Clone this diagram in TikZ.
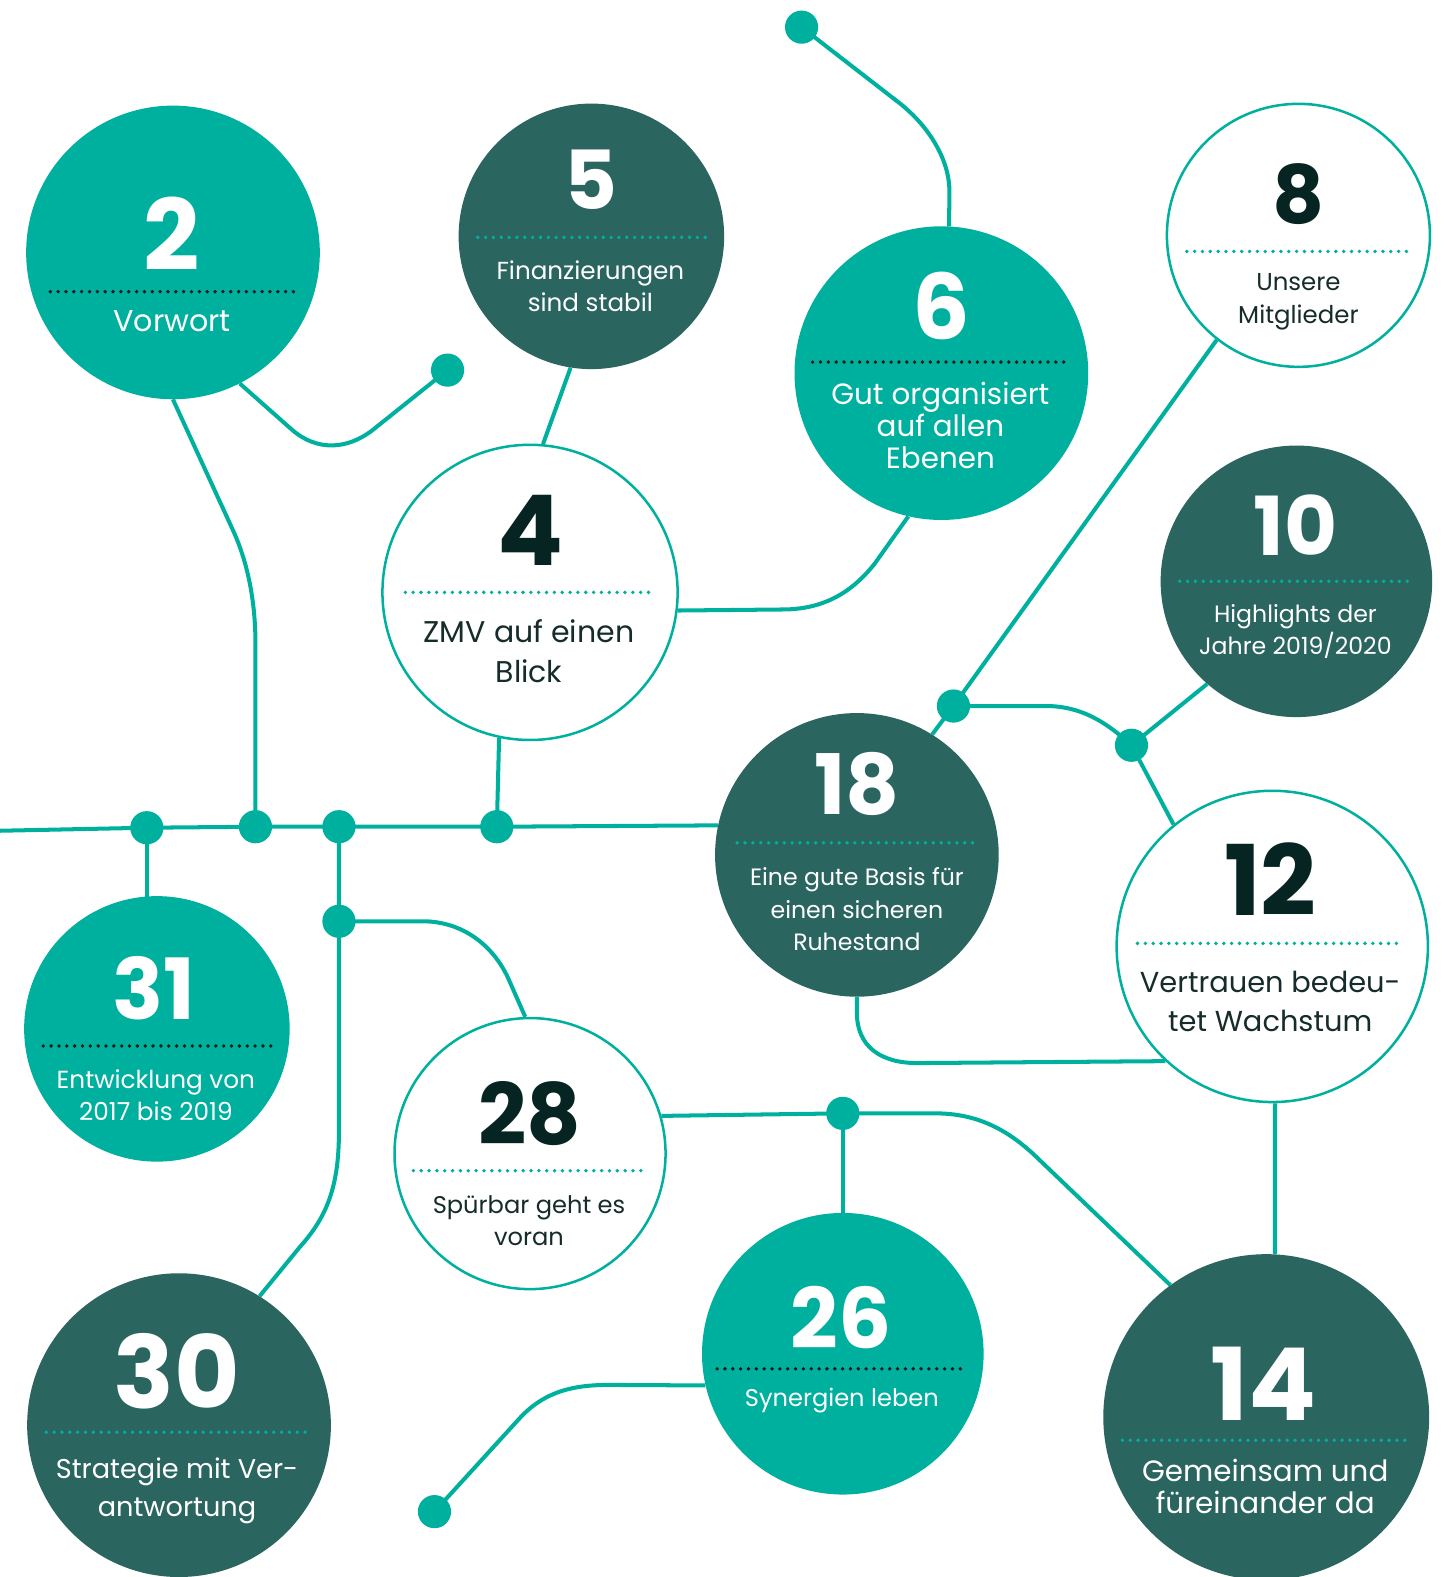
\documentclass[tikz,border=0pt]{standalone}
\usepackage{fontspec}
\setmainfont{Poppins}
\definecolor{tealc}{RGB}{0,176,159}
\definecolor{darkc}{RGB}{42,101,96}
\definecolor{inkc}{RGB}{6,36,33}
\definecolor{txtc}{RGB}{22,44,42}
\newcommand\nsz[1]{\fontsize{#1}{#1}\selectfont\bfseries}
\newcommand\lsz[2]{\fontsize{#1}{#2}\selectfont}
\pgfdeclarelayer{paper}
\pgfdeclarelayer{links}
\pgfsetlayers{paper,links,main}
\begin{document}
\begin{tikzpicture}[x=1pt,y=-1pt,
  tealdisc/.style={circle,inner sep=0,fill=tealc,minimum size={2*#1}},
  darkdisc/.style={circle,inner sep=0,fill=darkc,minimum size={2*#1}},
  ringdisc/.style={circle,inner sep=0,fill=white,draw=tealc,line width=2.5,minimum size={2*#1-2.5}},
  jdot/.style={circle,inner sep=0,fill=tealc,minimum size=33},
  link/.style={draw=tealc,line width=4,line join=round},
  num/.style={inner sep=0,anchor=center},
  lab/.style={inner sep=0,anchor=center,align=center},
  sepdark/.style={line width=3.8,dash pattern=on 0pt off 7.8pt,line cap=round,draw=black!90},
  seplight/.style={line width=3.8,dash pattern=on 0pt off 7.8pt,line cap=round,draw=tealc},
]
\useasboundingbox (0,0) rectangle (1444,1568);
\begin{pgfonlayer}{paper}
\fill[white] (0,0) rectangle (1444,1568);
\end{pgfonlayer}

% discs
\node[tealdisc=146] (c2)  at (172,251)  {};
\node[darkdisc=132] (c5)  at (588,235)  {};
\node[tealdisc=146] (c6)  at (936,371)  {};
\node[ringdisc=132] (c8)  at (1291,234) {};
\node[ringdisc=148] (c4)  at (527,589)  {};
\node[darkdisc=135] (c10) at (1289,578) {};
\node[darkdisc=141] (c18) at (852,850)  {};
\node[ringdisc=156] (c12) at (1265,941) {};
\node[tealdisc=132] (c31) at (156,1023) {};
\node[ringdisc=136] (c28) at (527,1147) {};
\node[tealdisc=140] (c26) at (838,1346) {};
\node[darkdisc=151] (c30) at (178,1417) {};
\node[darkdisc=162] (c14) at (1259,1409) {};

% junction dots
\node[jdot] (j1)  at (146,823)  {};
\node[jdot] (j2)  at (254,822)  {};
\node[jdot] (j3)  at (337,822)  {};
\node[jdot] (j4)  at (494,822)  {};
\node[jdot] (j5)  at (337,916)  {};
\node[jdot] (jt)  at (797,27)   {};
\node[jdot] (jv)  at (445,368)  {};
\node[jdot] (j18) at (948,702)  {};
\node[jdot] (j10) at (1125,741) {};
\node[jdot] (j28) at (838,1107) {};
\node[jdot] (j26) at (432,1503) {};
\coordinate (w) at (0,826);

% connectors
\begin{pgfonlayer}{links}
\draw[link] (w) -- (j1.center) -- (j2.center) -- (j3.center) -- (j4.center) -- (c18.168);
\draw[link] (j1.center) -- (j1.center |- c31.center);
\draw[link] (c2.270) -- (232,528) .. controls (247,561) and (254,600) .. (254,640) -- (j2.center);
\draw[link] (c2.297) -- (290,427) .. controls (315,449) and (345,447) .. (370,428) -- (jv.center);
\draw[link] (c5.261) -- (c4.85);
\draw[link] (c4.258) -- (j4.center);
\draw[link] (c4.353) -- (778,606) .. controls (820,606) and (848,588) .. (870,560) -- (c6.257);
\draw[link] (jt.center) -- (895,103) .. controls (925,127) and (944,160) .. (944,190) -- (c6.87);
\draw[link] (c8.232) -- (j18.center) -- (c18.58);
\draw[link] (j18.center) -- (1040,702) .. controls (1075,702) and (1100,718) .. (j10.center) -- (c12.129);
\draw[link] (c10.229) -- (j10.center);
\draw[link] (c18.270) -- (852,1007) .. controls (852,1040) and (875,1057) .. (912,1057) -- (c12.227);
\draw[link] (c12.271) -- (c14.87);
\draw[link] (c28.16) -- (j28.center) -- (930,1107) .. controls (970,1107) and (1000,1122) .. (1028,1148) -- (c14.126);
\draw[link] (j28.center) -- (c26.center);
\draw[link] (j3.center) -- (j5.center) -- (337,1125) .. controls (337,1180) and (325,1210) .. (298,1240) -- (c30.58);
\draw[link] (j5.center) -- (420,916) .. controls (460,916) and (490,940) .. (505,972) -- (c28.92);
\draw[link] (c26.193) -- (605,1377) .. controls (565,1377) and (538,1386) .. (515,1412) -- (j26.center);
\end{pgfonlayer}

% separators
\draw[sepdark]  (50,290) -- (293,290);
\draw[seplight] (475,236) -- (703,236);
\draw[sepdark]  (808,360) -- (1063,360);
\draw[seplight] (1180,250) -- (1405,250);
\draw[seplight] (403,589) -- (652,589);
\draw[seplight] (1173,578) -- (1405,578);
\draw[seplight] (733,838) -- (970,838);
\draw[seplight] (1131,938) -- (1396,938);
\draw[sepdark]  (43,1040) -- (270,1040);
\draw[seplight] (411,1164) -- (643,1164);
\draw[sepdark]  (713,1361) -- (962,1361);
\draw[seplight] (46,1424) -- (308,1424);
\draw[seplight] (1116,1432) -- (1402,1432);

% page numbers
\node[num,text=white,font=\nsz{98}]  (n2)  at (171,232)  {2};
\node[num,text=white,font=\nsz{81}]  (n5)  at (588,179)  {5};
\node[num,text=white,font=\nsz{90}]  (n6)  at (936,304)  {6};
\node[num,text=inkc,font=\nsz{80}]   (n8)  at (1291,193) {8};
\node[num,text=inkc,font=\nsz{97}]   (n4)  at (527,527)  {4};
\node[num,text=white,font=\nsz{81}]  (n10) at (1288,522) {10};
\node[num,text=white,font=\nsz{83}]  (n18) at (852,780)  {18};
\node[num,text=inkc,font=\nsz{97}]   (n12) at (1263,874) {12};
\node[num,text=white,font=\nsz{84}]  (n31) at (153,983)  {31};
\node[num,text=inkc,font=\nsz{84}]   (n28) at (527,1107) {28};
\node[num,text=white,font=\nsz{83}]  (n26) at (836,1310) {26};
\node[num,text=white,font=\nsz{100}] (n30) at (176,1363) {30};
\node[num,text=white,font=\nsz{100}] (n14) at (1256,1376) {14};

% titles
\node[lab,text=white,font=\lsz{30}{34}]     (t2)  at (171,319)  {Vorwort};
\node[lab,text=white,font=\lsz{24.5}{31.5}] (t5)  at (587,284.5) {Finanzierungen\\sind stabil};
\node[lab,text=white,font=\lsz{29.2}{32}]   (t6)  at (935,423)  {Gut organisiert\\auf allen\\Ebenen};
\node[lab,text=txtc,font=\lsz{24.3}{32}]    (t8)  at (1291,300) {Unsere\\Mitglieder};
\node[lab,text=txtc,font=\lsz{29.8}{39}]    (t4)  at (526,647.5) {ZMV auf einen\\Blick};
\node[lab,text=white,font=\lsz{23.5}{32}]   (t10) at (1288,628) {Highlights der\\Jahre 2019/2020};
\node[lab,text=white,font=\lsz{23.5}{32}]   (t18) at (852,904)  {Eine gute Basis für\\einen sicheren\\Ruhestand};
\node[lab,text=txtc,font=\lsz{28.7}{39}]    (t12) at (1263,995.5) {Vertrauen bedeu-\\tet Wachstum};
\node[lab,text=white,font=\lsz{24.6}{32}]   (t31) at (155,1089) {Entwicklung von\\2017 bis 2019};
\node[lab,text=txtc,font=\lsz{24}{32}]      (t28) at (526,1214) {Spürbar geht es\\voran};
\node[lab,text=white,font=\lsz{24}{32}]     (t26) at (837,1393) {Synergien leben};
\node[lab,text=white,font=\lsz{27}{38}]     (t30) at (176,1482) {Strategie mit Ver-\\antwortung};
\node[lab,text=white,font=\lsz{29.2}{32}]   (t14) at (1258,1478) {Gemeinsam und\\füreinander da};
\end{tikzpicture}
\end{document}
